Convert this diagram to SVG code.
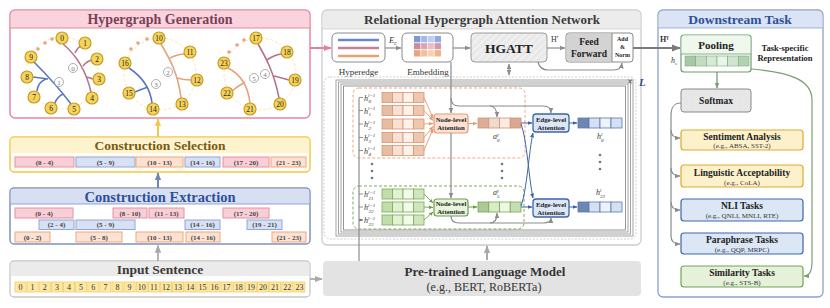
<svg xmlns="http://www.w3.org/2000/svg" width="830" height="308" viewBox="0 0 830 308">
<style>
text{font-family:"Liberation Serif","Times New Roman",serif;fill:#333}
.ttl{font-weight:bold;text-anchor:middle}
.c{text-anchor:middle}
.nd circle{fill:#f6d35c;stroke:#c69d22;stroke-width:1.2}
.nd text{font-size:7.5px;text-anchor:middle;fill:#222}
.ring{fill:none;stroke:#fbe7ad;stroke-width:1;stroke-dasharray:3 2}
.dot{fill:#e7a385}
.he{fill:none;stroke-width:1.6}
.hm{stroke:#b57485}.hb{stroke:#5a78ba}.ho{stroke:#e5a27f}
.lab circle{fill:#fff;stroke:#9a9a9a;stroke-width:0.8}
.lab text{font-size:7px;fill:#777;text-anchor:middle}
.it{font-size:7px;font-weight:bold;text-anchor:middle;fill:#444}
.pk{fill:#f9cfd7;stroke:#e890a5;stroke-width:1}
.bl{fill:#d7e1f3;stroke:#8fa7d6;stroke-width:1}
.or{fill:#fde2d3;stroke:#f0a77f;stroke-width:1}
.tok rect{fill:#fde8a4;stroke:#f0cd68;stroke-width:0.8}
.tok text{font-size:8px;text-anchor:middle;fill:#333}
.ln{fill:none;stroke:#8c8c8c;stroke-width:1.2}
.box{fill:#fff;stroke:#8a8a8a;stroke-width:1}
.small{font-size:9px;text-anchor:middle;fill:#333}
.att{font-size:6.8px;font-weight:bold;text-anchor:middle;fill:#222}
.oc{stroke:#d99474;stroke-width:0.8}
.gc{stroke:#7daa5c;stroke-width:0.8}
.bc{stroke:#5a78b0;stroke-width:0.8}
.tk{font-size:9.5px;font-weight:bold;text-anchor:middle;fill:#222}
.ts{font-size:7px;text-anchor:middle;fill:#333}
.ylw{fill:#fdf1cb;stroke:#e0a92e;stroke-width:1.2}
.blu{fill:#dce7f6;stroke:#3f66aa;stroke-width:1.2}
.grn{fill:#e5f1d9;stroke:#72a555;stroke-width:1.2}
.lb{font-size:8px;font-style:italic;fill:#333}
.sup{font-size:5px}
.gd{fill:#777}
</style>
<defs>
<marker id="mG" viewBox="0 0 10 10" refX="9" refY="5" markerWidth="6" markerHeight="6" markerUnits="userSpaceOnUse" orient="auto-start-reverse"><path d="M0,1 L10,5 L0,9 z" fill="#8c8c8c"/></marker>
<marker id="mGL" viewBox="0 0 10 10" refX="9" refY="5" markerWidth="8" markerHeight="8" markerUnits="userSpaceOnUse" orient="auto"><path d="M0,1 L10,5 L0,9 z" fill="#a8a8a8"/></marker>
<marker id="mD" viewBox="0 0 10 10" refX="9" refY="5" markerWidth="9" markerHeight="9" markerUnits="userSpaceOnUse" orient="auto"><path d="M0,1 L10,5 L0,9 z" fill="#7a7a7a"/></marker>
<marker id="mP" viewBox="0 0 10 10" refX="9" refY="5" markerWidth="8" markerHeight="8" markerUnits="userSpaceOnUse" orient="auto"><path d="M0,1 L10,5 L0,9 z" fill="#e4809c"/></marker>
<marker id="mY" viewBox="0 0 10 10" refX="9" refY="5" markerWidth="8" markerHeight="8" markerUnits="userSpaceOnUse" orient="auto"><path d="M0,1 L10,5 L0,9 z" fill="#f2c84b"/></marker>
<marker id="mB" viewBox="0 0 10 10" refX="9" refY="5" markerWidth="8" markerHeight="8" markerUnits="userSpaceOnUse" orient="auto"><path d="M0,1 L10,5 L0,9 z" fill="#7088b0"/></marker>
<marker id="mO" viewBox="0 0 10 10" refX="9" refY="5" markerWidth="4.5" markerHeight="4.5" markerUnits="userSpaceOnUse" orient="auto"><path d="M0,1 L10,5 L0,9 z" fill="#e59a72"/></marker>
<marker id="mGr" viewBox="0 0 10 10" refX="9" refY="5" markerWidth="4.5" markerHeight="4.5" markerUnits="userSpaceOnUse" orient="auto"><path d="M0,1 L10,5 L0,9 z" fill="#6e9e4e"/></marker>
<marker id="mDB" viewBox="0 0 10 10" refX="9" refY="5" markerWidth="5" markerHeight="5" markerUnits="userSpaceOnUse" orient="auto"><path d="M0,1 L10,5 L0,9 z" fill="#3d64a8"/></marker>
<marker id="mS" viewBox="0 0 10 10" refX="9" refY="5" markerWidth="4" markerHeight="4" markerUnits="userSpaceOnUse" orient="auto"><path d="M0,1 L10,5 L0,9 z" fill="#777"/></marker>
<marker id="mGn" viewBox="0 0 10 10" refX="9" refY="5" markerWidth="6" markerHeight="6" markerUnits="userSpaceOnUse" orient="auto"><path d="M0,1 L10,5 L0,9 z" fill="#7aa070"/></marker>
<pattern id="hatch" width="5" height="5" patternUnits="userSpaceOnUse" patternTransform="rotate(45)"><rect width="5" height="5" fill="#e9e9e9"/><line x1="0" y1="0" x2="0" y2="5" stroke="#fafafa" stroke-width="1.6"/></pattern>
<pattern id="grid" width="6" height="6" patternUnits="userSpaceOnUse"><rect width="6" height="6" fill="#e6e6e6"/><path d="M6,0 V6 M0,6 H6" stroke="#f4f4f4" stroke-width="0.6" stroke-dasharray="1 1"/></pattern>
</defs>

<!-- ================= LEFT COLUMN ================= -->
<g id="hypergraph-generation">
<rect x="10" y="10" width="300" height="108" rx="5" fill="#fff" stroke="#e8869f" stroke-width="1.5"/>
<path d="M10.75,15 a4.25,4.25 0 0 1 4.25,-4.25 h290 a4.25,4.25 0 0 1 4.25,4.25 V28 H10.75 Z" fill="#f9d3dd"/>
<line x1="10" y1="28" x2="310" y2="28" stroke="#e8869f" stroke-width="1"/>
<text x="160" y="24" class="ttl" font-size="14" fill="#7b3f57" style="fill:#7b3f57">Hypergraph Generation</text>

<circle class="ring" cx="62" cy="73" r="36"/>
<circle class="ring" cx="160" cy="74" r="36"/>
<circle class="ring" cx="260" cy="74" r="36"/>
<circle class="dot" cx="38" cy="49" r="1.8"/><circle class="dot" cx="45" cy="43" r="1.8"/><circle class="dot" cx="52" cy="39" r="1.8"/>
<circle class="dot" cx="131" cy="49" r="1.8"/><circle class="dot" cx="138" cy="43" r="1.8"/><circle class="dot" cx="147" cy="39" r="1.8"/>
<circle class="dot" cx="229" cy="52" r="1.8"/><circle class="dot" cx="237" cy="45" r="1.8"/><circle class="dot" cx="244" cy="40" r="1.8"/>

<path class="he hm" d="M63,44 C75,54 86,70 91,92 M75,53 Q78,47 81,46 M83,66 Q87,61 92,60 M87,77 Q90,78 93,79"/>
<path class="he hb" d="M34,62 C48,76 62,92 71,104 M33,77 Q41,78 48,79 M46,79 Q38,82 37,91 M63,94 Q57,97 55,103"/>
<path class="he hb" d="M129,68 C141,76 150,86 152,103 M148,87 Q142,89 135,92"/>
<path class="he ho" d="M161,44 C168,56 178,72 181,98 M170,58 Q178,54 185,54 M177,78 Q184,80 191,80"/>
<path class="he hm" d="M258,44 C265,56 274,72 279,98 M267,60 Q274,55 281,54 M274,76 Q282,78 289,80"/>
<path class="he ho" d="M228,68 C240,74 248,86 250,103 M245,82 Q238,86 232,91"/>

<g class="lab">
<circle cx="73" cy="68" r="4.5"/><text x="73" y="70.5">0</text>
<circle cx="59" cy="82" r="4.5"/><text x="59" y="84.5">1</text>
<circle cx="168" cy="72" r="4.5"/><text x="168" y="74.5">2</text>
<circle cx="156" cy="84" r="4.5"/><text x="156" y="86.5">3</text>
<circle cx="265" cy="74" r="4.5"/><text x="265" y="76.5">4</text>
<circle cx="254" cy="78" r="4.5"/><text x="254" y="80.5">5</text>
</g>
<g class="nd">
<circle cx="62" cy="38" r="6"/><text x="62" y="40.6">0</text>
<circle cx="85" cy="43" r="6"/><text x="85" y="45.6">1</text>
<circle cx="97" cy="59" r="6"/><text x="97" y="61.6">2</text>
<circle cx="99" cy="79" r="6"/><text x="99" y="81.6">3</text>
<circle cx="92" cy="98" r="6"/><text x="92" y="100.6">4</text>
<circle cx="74" cy="109" r="6"/><text x="74" y="111.6">5</text>
<circle cx="51" cy="108" r="6"/><text x="51" y="110.6">6</text>
<circle cx="34" cy="97" r="6"/><text x="34" y="99.6">7</text>
<circle cx="27" cy="77" r="6"/><text x="27" y="79.6">8</text>
<circle cx="31" cy="57" r="6"/><text x="31" y="59.6">9</text>
<circle cx="159" cy="38" r="6"/><text x="159" y="40.6">10</text>
<circle cx="190" cy="52" r="6"/><text x="190" y="54.6">11</text>
<circle cx="197" cy="80" r="6"/><text x="197" y="82.6">12</text>
<circle cx="182" cy="104" r="6"/><text x="182" y="106.6">13</text>
<circle cx="153" cy="109" r="6"/><text x="153" y="111.6">14</text>
<circle cx="129" cy="93" r="6"/><text x="129" y="95.6">15</text>
<circle cx="125" cy="63" r="6"/><text x="125" y="65.6">16</text>
<circle cx="256" cy="38" r="6"/><text x="256" y="40.6">17</text>
<circle cx="287" cy="52" r="6"/><text x="287" y="54.6">18</text>
<circle cx="295" cy="80" r="6"/><text x="295" y="82.6">19</text>
<circle cx="280" cy="104" r="6"/><text x="280" y="106.6">20</text>
<circle cx="250" cy="109" r="6"/><text x="250" y="111.6">21</text>
<circle cx="227" cy="93" r="6"/><text x="227" y="95.6">22</text>
<circle cx="224" cy="63" r="6"/><text x="224" y="65.6">23</text>
</g>
</g>

<g id="construction-selection">
<rect x="10" y="137" width="300" height="35" rx="4" fill="#fffdf3" stroke="#f2c84b" stroke-width="1.5"/>
<path d="M10.75,141 a3.25,3.25 0 0 1 3.25,-3.25 h292 a3.25,3.25 0 0 1 3.25,3.25 V153 H10.75 Z" fill="#fdf3cf"/>
<text x="160" y="150" class="ttl" font-size="13.5" style="fill:#7a5a12">Construction Selection</text>
<rect class="pk" x="15" y="157" width="59" height="10"/><text class="it" x="44.5" y="164.5">(0 - 4)</text>
<rect class="bl" x="76" y="157" width="59" height="10"/><text class="it" x="105.5" y="164.5">(5 - 9)</text>
<rect class="or" x="136" y="157" width="47" height="10"/><text class="it" x="159.5" y="164.5">(10 - 13)</text>
<rect class="bl" x="185" y="157" width="35" height="10"/><text class="it" x="202.5" y="164.5">(14 - 16)</text>
<rect class="pk" x="223" y="157" width="46" height="10"/><text class="it" x="246" y="164.5">(17 - 20)</text>
<rect class="or" x="271" y="157" width="35" height="10"/><text class="it" x="288.5" y="164.5">(21 - 23)</text>
</g>

<g id="construction-extraction">
<rect x="10" y="188" width="300" height="56" rx="4" fill="#fff" stroke="#7d92bd" stroke-width="1.5"/>
<path d="M10.75,192 a3.25,3.25 0 0 1 3.25,-3.25 h292 a3.25,3.25 0 0 1 3.25,3.25 V204 H10.75 Z" fill="#d6e0f2"/>
<line x1="10" y1="204" x2="310" y2="204" stroke="#7d92bd" stroke-width="0.8"/>
<text x="160" y="201.5" class="ttl" font-size="14.5" style="fill:#2e4f9a">Construction Extraction</text>
<rect class="pk" x="15" y="208" width="58" height="10"/><text class="it" x="44" y="215.5">(0 - 4)</text>
<rect class="pk" x="113" y="208" width="34" height="10"/><text class="it" x="130" y="215.5">(8 - 10)</text>
<rect class="pk" x="149" y="208" width="35" height="10"/><text class="it" x="166.5" y="215.5">(11 - 13)</text>
<rect class="pk" x="223" y="208" width="46" height="10"/><text class="it" x="246" y="215.5">(17 - 20)</text>
<rect class="bl" x="39" y="220" width="35" height="9.5"/><text class="it" x="56.5" y="227.3">(2 - 4)</text>
<rect class="bl" x="76" y="220" width="59" height="9.5"/><text class="it" x="105.5" y="227.3">(5 - 9)</text>
<rect class="bl" x="185" y="220" width="35" height="9.5"/><text class="it" x="202.5" y="227.3">(14 - 16)</text>
<rect class="bl" x="247" y="220" width="35" height="9.5"/><text class="it" x="264.5" y="227.3">(19 - 21)</text>
<rect class="or" x="15" y="232" width="35" height="10"/><text class="it" x="32.5" y="239.5">(0 - 2)</text>
<rect class="or" x="76" y="232" width="46" height="10"/><text class="it" x="99" y="239.5">(5 - 8)</text>
<rect class="or" x="136" y="232" width="47" height="10"/><text class="it" x="159.5" y="239.5">(10 - 13)</text>
<rect class="or" x="186" y="232" width="34" height="10"/><text class="it" x="203" y="239.5">(14 - 16)</text>
<rect class="or" x="272" y="232" width="34" height="10"/><text class="it" x="289" y="239.5">(21 - 23)</text>
</g>

<g id="input-sentence">
<rect x="10" y="261" width="300" height="36" rx="4" fill="#fff" stroke="#c6c6c6" stroke-width="1.3"/>
<path d="M10.65,265 a3.35,3.35 0 0 1 3.35,-3.35 h292 a3.35,3.35 0 0 1 3.35,3.35 V276 H10.65 Z" fill="#ebebeb"/>
<text x="160" y="273.5" class="ttl" font-size="13.5" style="fill:#3a3a3a">Input Sentence</text>
<g class="tok">
<rect x="15" y="282" width="11" height="10"/><text x="20.5" y="290">0</text>
<rect x="27.1" y="282" width="11" height="10"/><text x="32.6" y="290">1</text>
<rect x="39.3" y="282" width="11" height="10"/><text x="44.8" y="290">2</text>
<rect x="51.4" y="282" width="11" height="10"/><text x="56.9" y="290">3</text>
<rect x="63.5" y="282" width="11" height="10"/><text x="69" y="290">4</text>
<rect x="75.6" y="282" width="11" height="10"/><text x="81.1" y="290">5</text>
<rect x="87.8" y="282" width="11" height="10"/><text x="93.3" y="290">6</text>
<rect x="99.9" y="282" width="11" height="10"/><text x="105.4" y="290">7</text>
<rect x="112" y="282" width="11" height="10"/><text x="117.5" y="290">8</text>
<rect x="124.1" y="282" width="11" height="10"/><text x="129.6" y="290">9</text>
<rect x="136.3" y="282" width="11" height="10"/><text x="141.8" y="290">10</text>
<rect x="148.4" y="282" width="11" height="10"/><text x="153.9" y="290">11</text>
<rect x="160.5" y="282" width="11" height="10"/><text x="166" y="290">12</text>
<rect x="172.6" y="282" width="11" height="10"/><text x="178.1" y="290">13</text>
<rect x="184.8" y="282" width="11" height="10"/><text x="190.3" y="290">14</text>
<rect x="196.9" y="282" width="11" height="10"/><text x="202.4" y="290">15</text>
<rect x="209" y="282" width="11" height="10"/><text x="214.5" y="290">16</text>
<rect x="221.1" y="282" width="11" height="10"/><text x="226.6" y="290">17</text>
<rect x="233.3" y="282" width="11" height="10"/><text x="238.8" y="290">18</text>
<rect x="245.4" y="282" width="11" height="10"/><text x="250.9" y="290">19</text>
<rect x="257.5" y="282" width="11" height="10"/><text x="263" y="290">20</text>
<rect x="269.6" y="282" width="11" height="10"/><text x="275.1" y="290">21</text>
<rect x="281.8" y="282" width="11" height="10"/><text x="287.3" y="290">22</text>
<rect x="293.9" y="282" width="11" height="10"/><text x="299.4" y="290">23</text>
</g>
</g>

<!-- ================= MIDDLE ================= -->
<g id="rhgat-panel">
<rect x="322" y="10" width="319" height="235" rx="5" fill="#fff" stroke="#cccccc" stroke-width="1.3"/>
<path d="M322.65,15 a4.35,4.35 0 0 1 4.35,-4.35 h309 a4.35,4.35 0 0 1 4.35,4.35 V29 H322.65 Z" fill="#ececec"/>
<line x1="322" y1="29" x2="641" y2="29" stroke="#d0d0d0" stroke-width="0.8"/>
<text x="482" y="24" class="ttl" font-size="13" style="fill:#3a3a3a">Relational Hypergraph Attention Network</text>
</g>

<g id="hyperedge">
<rect class="box" x="332" y="33" width="53" height="29" rx="5"/>
<line x1="338" y1="40" x2="379" y2="40" stroke="#6b86c4" stroke-width="2.5"/>
<line x1="338" y1="48" x2="379" y2="48" stroke="#c38595" stroke-width="2.5"/>
<line x1="338" y1="56" x2="379" y2="56" stroke="#e8a272" stroke-width="2.5"/>
<text class="small" x="358.5" y="75">Hyperedge</text>
</g>

<g id="embedding">
<rect class="box" x="402" y="33" width="51" height="29" rx="5"/>
<rect x="414" y="36" width="6.75" height="6.5" fill="#7d9ad6"/><rect x="420.75" y="36" width="6.75" height="6.5" fill="#a3b9e6"/><rect x="427.5" y="36" width="6.75" height="6.5" fill="#bccdf0"/><rect x="434.25" y="36" width="6.75" height="6.5" fill="#8faadf"/>
<rect x="414" y="43" width="6.75" height="6.5" fill="#c98c9c"/><rect x="420.75" y="43" width="6.75" height="6.5" fill="#d9a5b2"/><rect x="427.5" y="43" width="6.75" height="6.5" fill="#ebbcc8"/><rect x="434.25" y="43" width="6.75" height="6.5" fill="#d29aa8"/>
<rect x="414" y="50" width="6.75" height="6.5" fill="#e8a678"/><rect x="420.75" y="50" width="6.75" height="6.5" fill="#f1bf98"/><rect x="427.5" y="50" width="6.75" height="6.5" fill="#f7d1b2"/><rect x="434.25" y="50" width="6.75" height="6.5" fill="#eeb48a"/>
<path d="M414,42.75 H441 M414,49.75 H441 M420.75,36 V56.5 M427.5,36 V56.5 M434.25,36 V56.5" stroke="#fff" stroke-width="0.6"/>
<text class="small" x="428" y="75">Embedding</text>
</g>

<g id="hgatt">
<rect x="471" y="33" width="76" height="29" rx="4" fill="url(#hatch)" stroke="#9a9a9a" stroke-width="1"/>
<text x="509" y="53" class="ttl" font-size="13.5" style="fill:#222">HGATT</text>
</g>

<g id="feed-forward">
<rect x="566" y="33" width="67" height="29" rx="3" fill="#fff" stroke="#8a8a8a" stroke-width="1"/>
<path d="M569,33.5 H612 V61.5 H569 a2.5,2.5 0 0 1 -2.5,-2.5 V36 a2.5,2.5 0 0 1 2.5,-2.5 Z" fill="#d3d3d3"/>
<line x1="612" y1="33" x2="612" y2="62" stroke="#8a8a8a" stroke-width="1"/>
<text x="589" y="45" class="ttl" font-size="9.5" style="fill:#222">Feed</text>
<text x="589" y="57" class="ttl" font-size="9.5" style="fill:#222">Forward</text>
<text x="622.5" y="41" class="ttl" font-size="6" style="fill:#222">Add</text>
<text x="622.5" y="49" class="ttl" font-size="6" style="fill:#222">&amp;</text>
<text x="622.5" y="57" class="ttl" font-size="6" style="fill:#222">Norm</text>
</g>

<g id="layer-stack">
<rect x="324" y="77" width="312" height="162" rx="6" fill="none" stroke="#cfcfcf" stroke-width="1" stroke-dasharray="2 1.5"/>
<rect x="336" y="80" width="297" height="156" fill="#fff" stroke="#9a9a9a" stroke-width="0.9"/>
<rect x="338.5" y="82" width="292" height="152" fill="#fff" stroke="#9a9a9a" stroke-width="0.9"/>
<rect x="341" y="84" width="287" height="148" fill="#fff" stroke="#9a9a9a" stroke-width="0.9"/>
<rect x="343.5" y="86" width="282" height="144" fill="#fff" stroke="#8a8a8a" stroke-width="0.9"/>
<text x="630" y="85" font-size="10" class="c" style="fill:#333">×</text>
<text x="639" y="86" font-size="11" font-style="italic" font-weight="bold" style="fill:#2e4f9a">L</text>
<rect x="353" y="88" width="172" height="70" rx="6" fill="none" stroke="#f0a77f" stroke-width="1" stroke-dasharray="3 2"/>
<rect x="353" y="186" width="171" height="43" rx="6" fill="none" stroke="#7daa5c" stroke-width="1" stroke-dasharray="3 2"/>
</g>

<g id="node-rows-orange">
<g>
<rect x="382" y="92.5" width="10.5" height="10" fill="#e6bca2" class="oc"/><rect x="392.5" y="92.5" width="10.5" height="10" fill="#f8e1d2" class="oc"/><rect x="403" y="92.5" width="10.5" height="10" fill="#fff1e8" class="oc"/><rect x="413.5" y="92.5" width="10.5" height="10" fill="#efc6ae" class="oc"/>
<rect x="382" y="105.5" width="10.5" height="10" fill="#e6bca2" class="oc"/><rect x="392.5" y="105.5" width="10.5" height="10" fill="#f8e1d2" class="oc"/><rect x="403" y="105.5" width="10.5" height="10" fill="#fff1e8" class="oc"/><rect x="413.5" y="105.5" width="10.5" height="10" fill="#efc6ae" class="oc"/>
<rect x="382" y="119" width="10.5" height="10" fill="#e6bca2" class="oc"/><rect x="392.5" y="119" width="10.5" height="10" fill="#f8e1d2" class="oc"/><rect x="403" y="119" width="10.5" height="10" fill="#fff1e8" class="oc"/><rect x="413.5" y="119" width="10.5" height="10" fill="#efc6ae" class="oc"/>
<rect x="382" y="132.5" width="10.5" height="10" fill="#e6bca2" class="oc"/><rect x="392.5" y="132.5" width="10.5" height="10" fill="#f8e1d2" class="oc"/><rect x="403" y="132.5" width="10.5" height="10" fill="#fff1e8" class="oc"/><rect x="413.5" y="132.5" width="10.5" height="10" fill="#efc6ae" class="oc"/>
<rect x="382" y="145.5" width="10.5" height="10" fill="#e6bca2" class="oc"/><rect x="392.5" y="145.5" width="10.5" height="10" fill="#f8e1d2" class="oc"/><rect x="403" y="145.5" width="10.5" height="10" fill="#fff1e8" class="oc"/><rect x="413.5" y="145.5" width="10.5" height="10" fill="#efc6ae" class="oc"/>
</g>
<text class="lb" x="364" y="100.5">h<tspan class="sup" dy="-3.5">l−1</tspan><tspan class="sup" x="368.5" dy="6">0</tspan></text>
<text class="lb" x="364" y="113.5">h<tspan class="sup" dy="-3.5">l−1</tspan><tspan class="sup" x="368.5" dy="6">1</tspan></text>
<text class="lb" x="364" y="127">h<tspan class="sup" dy="-3.5">l−1</tspan><tspan class="sup" x="368.5" dy="6">2</tspan></text>
<text class="lb" x="364" y="140.5">h<tspan class="sup" dy="-3.5">l−1</tspan><tspan class="sup" x="368.5" dy="6">3</tspan></text>
<text class="lb" x="364" y="153.5">h<tspan class="sup" dy="-3.5">l−1</tspan><tspan class="sup" x="368.5" dy="6">4</tspan></text>
</g>

<g id="node-rows-green">
<rect x="382" y="189" width="10.5" height="10" fill="#c2dcaa" class="gc"/><rect x="392.5" y="189" width="10.5" height="10" fill="#e0f2d2" class="gc"/><rect x="403" y="189" width="10.5" height="10" fill="#f2faea" class="gc"/><rect x="413.5" y="189" width="10.5" height="10" fill="#cfe6bd" class="gc"/>
<rect x="382" y="202" width="10.5" height="10" fill="#c2dcaa" class="gc"/><rect x="392.5" y="202" width="10.5" height="10" fill="#e0f2d2" class="gc"/><rect x="403" y="202" width="10.5" height="10" fill="#f2faea" class="gc"/><rect x="413.5" y="202" width="10.5" height="10" fill="#cfe6bd" class="gc"/>
<rect x="382" y="215" width="10.5" height="10" fill="#c2dcaa" class="gc"/><rect x="392.5" y="215" width="10.5" height="10" fill="#e0f2d2" class="gc"/><rect x="403" y="215" width="10.5" height="10" fill="#f2faea" class="gc"/><rect x="413.5" y="215" width="10.5" height="10" fill="#cfe6bd" class="gc"/>
<text class="lb" x="364" y="197">h<tspan class="sup" dy="-3.5">l−1</tspan><tspan class="sup" x="368.5" dy="6">21</tspan></text>
<text class="lb" x="364" y="210">h<tspan class="sup" dy="-3.5">l−1</tspan><tspan class="sup" x="368.5" dy="6">22</tspan></text>
<text class="lb" x="364" y="223">h<tspan class="sup" dy="-3.5">l−1</tspan><tspan class="sup" x="368.5" dy="6">23</tspan></text>
</g>

<g id="dots">
<circle class="gd" cx="372" cy="164" r="1.3"/><circle class="gd" cx="372" cy="171" r="1.3"/><circle class="gd" cx="372" cy="178" r="1.3"/>
<circle class="gd" cx="502" cy="164" r="1.3"/><circle class="gd" cx="502" cy="171" r="1.3"/><circle class="gd" cx="502" cy="178" r="1.3"/>
<circle class="gd" cx="600" cy="155" r="1.3"/><circle class="gd" cx="600" cy="162" r="1.3"/><circle class="gd" cx="600" cy="169" r="1.3"/>
</g>

<g id="node-attn-orange">
<rect x="434" y="114" width="34" height="19" rx="3" fill="#fde2d3" stroke="#e39a74" stroke-width="1.2"/>
<text class="att" x="451" y="122">Node-level</text><text class="att" x="451" y="130">Attention</text>
</g>
<g id="node-attn-green">
<rect x="434" y="199" width="34" height="17" rx="3" fill="#e8f4dc" stroke="#6e9e4e" stroke-width="1.2"/>
<text class="att" x="451" y="206">Node-level</text><text class="att" x="451" y="213.5">Attention</text>
</g>

<g id="a0">
<rect x="478" y="118" width="10.75" height="10" fill="#dcae96" stroke="#cf9478" stroke-width="0.8"/><rect x="488.75" y="118" width="10.75" height="10" fill="#f0dacd" stroke="#cf9478" stroke-width="0.8"/><rect x="499.5" y="118" width="10.75" height="10" fill="#fdeae0" stroke="#cf9478" stroke-width="0.8"/><rect x="510.25" y="118" width="10.75" height="10" fill="#d9a890" stroke="#cf9478" stroke-width="0.8"/>
<text class="lb" x="493" y="139" font-size="7">a<tspan class="sup" dy="-3">γ</tspan><tspan class="sup" x="497" dy="5.5">0</tspan></text>
</g>
<g id="a5">
<rect x="478" y="202" width="10.75" height="10" fill="#abc996" stroke="#78a45a" stroke-width="0.8"/><rect x="488.75" y="202" width="10.75" height="10" fill="#d6edc6" stroke="#78a45a" stroke-width="0.8"/><rect x="499.5" y="202" width="10.75" height="10" fill="#ecf8e2" stroke="#78a45a" stroke-width="0.8"/><rect x="510.25" y="202" width="10.75" height="10" fill="#c6dfb2" stroke="#78a45a" stroke-width="0.8"/>
<text class="lb" x="493" y="195" font-size="7">a<tspan class="sup" dy="-3">γ</tspan><tspan class="sup" x="497" dy="5.5">5</tspan></text>
</g>

<g id="edge-attn-top">
<rect x="533" y="114" width="36" height="18" rx="3" fill="#dce7f6" stroke="#3d64a8" stroke-width="1.3"/>
<text class="att" x="551" y="121.5">Edge-level</text><text class="att" x="551" y="129.5">Attention</text>
</g>
<g id="edge-attn-bottom">
<rect x="533" y="199" width="36" height="18" rx="3" fill="#dce7f6" stroke="#3d64a8" stroke-width="1.3"/>
<text class="att" x="551" y="206.5">Edge-level</text><text class="att" x="551" y="214.5">Attention</text>
</g>

<g id="h0">
<rect x="578" y="118" width="11" height="10" fill="#6f86b4" class="bc"/><rect x="589" y="118" width="11" height="10" fill="#d4e0f3" class="bc"/><rect x="600" y="118" width="11" height="10" fill="#eef3fb" class="bc"/><rect x="611" y="118" width="11" height="10" fill="#d4e0f3" class="bc"/>
<text class="lb" x="597" y="139" font-size="7">h<tspan class="sup" dy="-3">l</tspan><tspan class="sup" x="601" dy="5.5">0</tspan></text>
</g>
<g id="h23">
<rect x="578" y="202" width="11" height="10" fill="#6f86b4" class="bc"/><rect x="589" y="202" width="11" height="10" fill="#d4e0f3" class="bc"/><rect x="600" y="202" width="11" height="10" fill="#eef3fb" class="bc"/><rect x="611" y="202" width="11" height="10" fill="#d4e0f3" class="bc"/>
<text class="lb" x="596" y="195" font-size="7">h<tspan class="sup" dy="-3">l</tspan><tspan class="sup" x="600" dy="5.5">23</tspan></text>
</g>

<g id="plm">
<rect x="323" y="261" width="318" height="35" rx="4" fill="#e3e3e3"/>
<text x="485" y="276" class="ttl" font-size="13" style="fill:#333">Pre-trained Language Model</text>
<text x="484" y="291" class="c" font-size="12" style="fill:#333">(e.g., BERT, RoBERTa)</text>
</g>

<!-- ================= RIGHT ================= -->
<g id="downstream-panel">
<rect x="658" y="10" width="165" height="287" rx="5" fill="#fff" stroke="#8aa2cc" stroke-width="1.3"/>
<path d="M658.65,15 a4.35,4.35 0 0 1 4.35,-4.35 h155 a4.35,4.35 0 0 1 4.35,4.35 V28 H658.65 Z" fill="#dae4f4"/>
<line x1="658" y1="28" x2="823" y2="28" stroke="#8aa2cc" stroke-width="0.8"/>
<text x="740" y="24" class="ttl" font-size="13.5" style="fill:#2e4f9a">Downstream Task</text>
<text x="785" y="51" class="ttl" font-size="8.5" style="fill:#222">Task-specific</text>
<text x="785" y="61" class="ttl" font-size="8.5" style="fill:#222">Representation</text>
</g>

<g id="pooling">
<rect x="681" y="35" width="70" height="37" rx="3" fill="#fff" stroke="#6a9e6a" stroke-width="1.2"/>
<path d="M684,35.6 H748 a2.4,2.4 0 0 1 2.4,2.4 V54 H681.6 V38 a2.4,2.4 0 0 1 2.4,-2.4 Z" fill="#eef8ec"/>
<line x1="681" y1="54" x2="751" y2="54" stroke="#6a9e6a" stroke-width="0.8"/>
<text x="716" y="49" class="ttl" font-size="11" style="fill:#222">Pooling</text>
<rect x="685" y="56" width="10.67" height="10" fill="#a6c8a6" stroke="#7fa87f" stroke-width="0.6"/>
<rect x="695.67" y="56" width="10.67" height="10" fill="#c2dcc2" stroke="#7fa87f" stroke-width="0.6"/>
<rect x="706.33" y="56" width="10.67" height="10" fill="#d6ead6" stroke="#7fa87f" stroke-width="0.6"/>
<rect x="717" y="56" width="10.67" height="10" fill="#e9f5e9" stroke="#7fa87f" stroke-width="0.6"/>
<rect x="727.67" y="56" width="10.67" height="10" fill="#cfe5cf" stroke="#7fa87f" stroke-width="0.6"/>
<rect x="738.33" y="56" width="10.67" height="10" fill="#b3d2b3" stroke="#7fa87f" stroke-width="0.6"/>
<text class="lb" x="671" y="63" font-size="7.5">h<tspan class="sup" dy="2">s</tspan></text>
</g>

<g id="softmax">
<rect x="681" y="89" width="70" height="23" rx="3" fill="url(#grid)" stroke="#888" stroke-width="1"/>
<text x="716" y="104" class="ttl" font-size="9.5" style="fill:#222">Softmax</text>
</g>

<g id="task-sentiment"><rect class="ylw" x="681" y="130" width="122" height="20" rx="3"/><text class="tk" x="742" y="140">Sentiment Analysis</text><text class="ts" x="742" y="148">(e.g., ABSA, SST-2)</text></g>
<g id="task-cola"><rect class="ylw" x="681" y="165" width="122" height="22" rx="3"/><text class="tk" x="742" y="176">Linguistic Acceptability</text><text class="ts" x="742" y="184.5">(e.g., CoLA)</text></g>
<g id="task-nli"><rect class="blu" x="681" y="199" width="122" height="22" rx="3"/><text class="tk" x="742" y="208.5">NLI Tasks</text><text class="ts" x="742" y="218">(e.g., QNLI, MNLI, RTE)</text></g>
<g id="task-paraphrase"><rect class="blu" x="681" y="233" width="122" height="21" rx="3"/><text class="tk" x="742" y="242.5">Paraphrase Tasks</text><text class="ts" x="742" y="251.5">(e.g., QQP, MRPC)</text></g>
<g id="task-similarity"><rect class="grn" x="681" y="266" width="122" height="21" rx="3"/><text class="tk" x="742" y="276">Similarity Tasks</text><text class="ts" x="742" y="284.5">(e.g., STS-B)</text></g>

<!-- ================= CONNECTORS ================= -->
<g id="connectors">
<line x1="158" y1="261" x2="158" y2="245.5" stroke="#b4b4b4" stroke-width="2" marker-end="url(#mGL)"/>
<line x1="158" y1="188" x2="158" y2="173" stroke="#7088b0" stroke-width="2" marker-end="url(#mB)"/>
<line x1="158" y1="137" x2="158" y2="119" stroke="#f2c84b" stroke-width="2" marker-end="url(#mY)"/>
<line x1="310" y1="279" x2="322" y2="279" stroke="#b4b4b4" stroke-width="2" marker-end="url(#mGL)"/>
<line x1="310" y1="48" x2="331" y2="48" stroke="#e4809c" stroke-width="2" marker-end="url(#mP)"/>

<line x1="385" y1="48" x2="401" y2="48" class="ln" marker-end="url(#mG)"/>
<text x="389" y="43" font-size="8.5" font-style="italic" style="fill:#333">E<tspan font-size="5.5" dy="2">c</tspan></text>
<line x1="453" y1="48" x2="470" y2="48" class="ln" marker-end="url(#mG)"/>
<line x1="547" y1="48" x2="565" y2="48" class="ln" marker-end="url(#mG)"/>
<text x="551" y="42" font-size="8" style="fill:#333">H′</text>
<line x1="509" y1="64" x2="509" y2="75" class="ln" marker-start="url(#mG)" marker-end="url(#mG)"/>
<path d="M538,62 Q540,70 548,70 L614,70 Q621,70 622,63" class="ln" marker-end="url(#mG)"/>
<line x1="633" y1="48" x2="680" y2="48" stroke="#7a7a7a" stroke-width="2" marker-end="url(#mD)"/>
<text x="660" y="42" font-size="8" font-weight="bold" style="fill:#333">H<tspan font-size="5.5" dy="-3">γ</tspan></text>

<line x1="487" y1="260" x2="487" y2="246" stroke="#aaaaaa" stroke-width="2" marker-end="url(#mGL)"/>
<path d="M359,261 V98" fill="none" stroke="#8c8c8c" stroke-width="1.2"/>
<path d="M359,97.5 h4 M359,110.5 h4 M359,124 h4 M359,137.5 h4 M359,150.5 h4 M359,194 h4 M359,207 h4 M359,220 h4" stroke="#777" stroke-width="0.8" marker-end="url(#mS)"/>

<path d="M451,62 V113" class="ln" marker-end="url(#mG)"/>
<path d="M451,98 Q451,106 459,106 H490 Q497,106 497,117" class="ln" marker-end="url(#mG)"/>
<path d="M490,106 H543 Q551,106 551,113" class="ln" marker-end="url(#mG)"/>
<path d="M451,133 V198" class="ln" marker-end="url(#mG)"/>
<path d="M451,216 Q451,223 459,223 H490 Q497,223 497,213" class="ln" marker-end="url(#mG)"/>
<path d="M490,223 H543 Q551,223 551,218" class="ln" marker-end="url(#mG)"/>

<g stroke="#e59a72" stroke-width="0.9" fill="none" marker-end="url(#mO)">
<path d="M424,97.5 L433,118"/><path d="M424,110.5 L433,120.5"/><path d="M424,124 L433,123.5"/><path d="M424,137.5 L433,126.5"/><path d="M424,150.5 L433,129"/>
</g>
<line x1="468" y1="123.5" x2="477" y2="123.5" stroke="#e59a72" stroke-width="1" marker-end="url(#mO)"/>
<g stroke="#6e9e4e" stroke-width="0.9" fill="none" marker-end="url(#mGr)">
<path d="M424,194 L433,203"/><path d="M424,207 L433,207.5"/><path d="M424,220 L433,212"/>
</g>
<line x1="468" y1="207" x2="477" y2="207" stroke="#6e9e4e" stroke-width="1" marker-end="url(#mGr)"/>

<g stroke="#3d64a8" stroke-width="1" fill="none" marker-end="url(#mDB)">
<path d="M521,123 H532"/>
<path d="M521,207 H532"/>
<path d="M521,124 C527,140 529,180 533,198"/>
<path d="M521,206 C527,190 529,150 533,133"/>
<path d="M569,123 H577"/>
<path d="M569,207 H577"/>
</g>

<line x1="717" y1="72" x2="717" y2="88" stroke="#6d8f6d" stroke-width="1.2" marker-end="url(#mGn)"/>
<g class="ln" marker-end="url(#mG)">
<path d="M681,103 C673,103 671,108 671,116 V130 Q671,138 680,138"/>
<path d="M671,130 V168 Q671,176 680,176"/>
<path d="M671,168 V202 Q671,210 680,210"/>
<path d="M671,202 V236 Q671,244 680,244"/>
</g>
<path d="M751,69 C790,72 812,80 812,100 V262 Q812,276 804,276" fill="none" stroke="#7aa070" stroke-width="1.2" marker-end="url(#mGn)"/>
</g>
</svg>
